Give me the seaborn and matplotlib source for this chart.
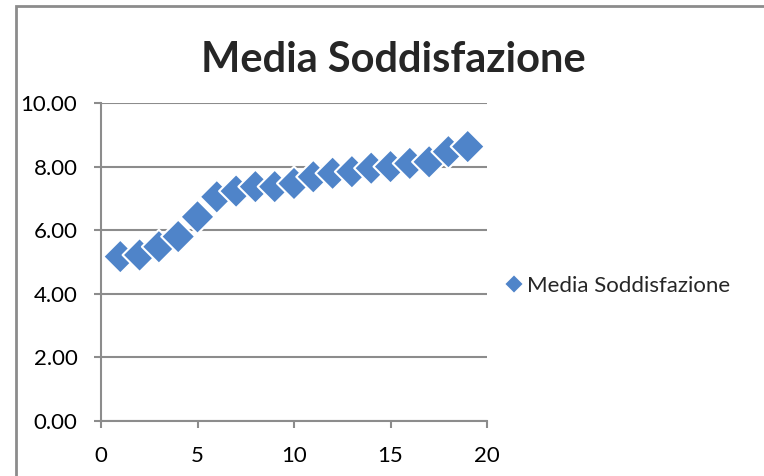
import pandas as pd
import matplotlib.pyplot as plt
import matplotlib.patches as mpatches
import seaborn as sns

# dati
giorni = [1, 2, 3, 4, 5, 6, 7, 8, 9, 10, 11, 12, 13, 14, 15, 16, 17, 18, 19]
media = [5.17, 5.22, 5.48, 5.80, 6.42, 7.05, 7.23, 7.37, 7.37, 7.47,
         7.68, 7.79, 7.84, 7.95, 8.00, 8.10, 8.15, 8.47, 8.63]
y_ticks = [0, 2, 4, 6, 8, 10]
x_ticks = [0, 5, 10, 15, 20]

df = pd.DataFrame({'x': giorni, 'y': media, 'serie': 'Media Soddisfazione'})

sns.set_style('white')
plt.rcParams['font.family'] = ['Lato', 'DejaVu Sans']

grigio = '#8c8c8c'
blu = '#4f84c9'

fig = plt.figure(figsize=(7.64, 4.76), dpi=100)
ax = fig.add_axes([101 / 764, 1 - 421 / 476, (487 - 101) / 764, (421 - 103) / 476])

# cornice esterna del grafico (solo lati sinistro e superiore visibili)
fig.patches.append(mpatches.Rectangle((16 / 764, -0.1), 1.0, 1 - 6 / 476 + 0.1,
                                      transform=fig.transFigure, fill=False,
                                      edgecolor=grigio, linewidth=2))

sns.scatterplot(data=df, x='x', y='y', hue='serie', palette=[blu], marker='D',
                s=300, edgecolor='white', linewidth=1.5, ax=ax, zorder=3)

ax.set_xlim(0, 20)
ax.set_ylim(0, 10)
ax.set_xticks(x_ticks)
ax.set_yticks(y_ticks)
ax.set_yticklabels([f'{v:.2f}' for v in y_ticks])
ax.set_xlabel('')
ax.set_ylabel('')
ax.grid(axis='y', color=grigio, linewidth=1.5)
ax.set_axisbelow(True)
for side in ['top', 'right']:
    ax.spines[side].set_visible(False)
for side in ['left', 'bottom']:
    ax.spines[side].set_color(grigio)
    ax.spines[side].set_linewidth(1.5)
ax.tick_params(axis='both', left=True, bottom=True, direction='out', length=5,
               width=1.5, color=grigio, labelsize=16, labelcolor='black')
ax.tick_params(axis='x', pad=13)
ax.tick_params(axis='y', pad=12)

fig.text(393 / 764, 1 - 72 / 476, 'Media Soddisfazione', ha='center', va='baseline',
         fontsize=30, fontweight='bold')

leg = ax.legend(loc='center left', bbox_to_anchor=(1.0, 0.425), frameon=False,
                fontsize=16, handletextpad=-0.2, markerscale=0.58, borderaxespad=0,
                handlelength=1.6)

plt.savefig('out.png', dpi=100)
